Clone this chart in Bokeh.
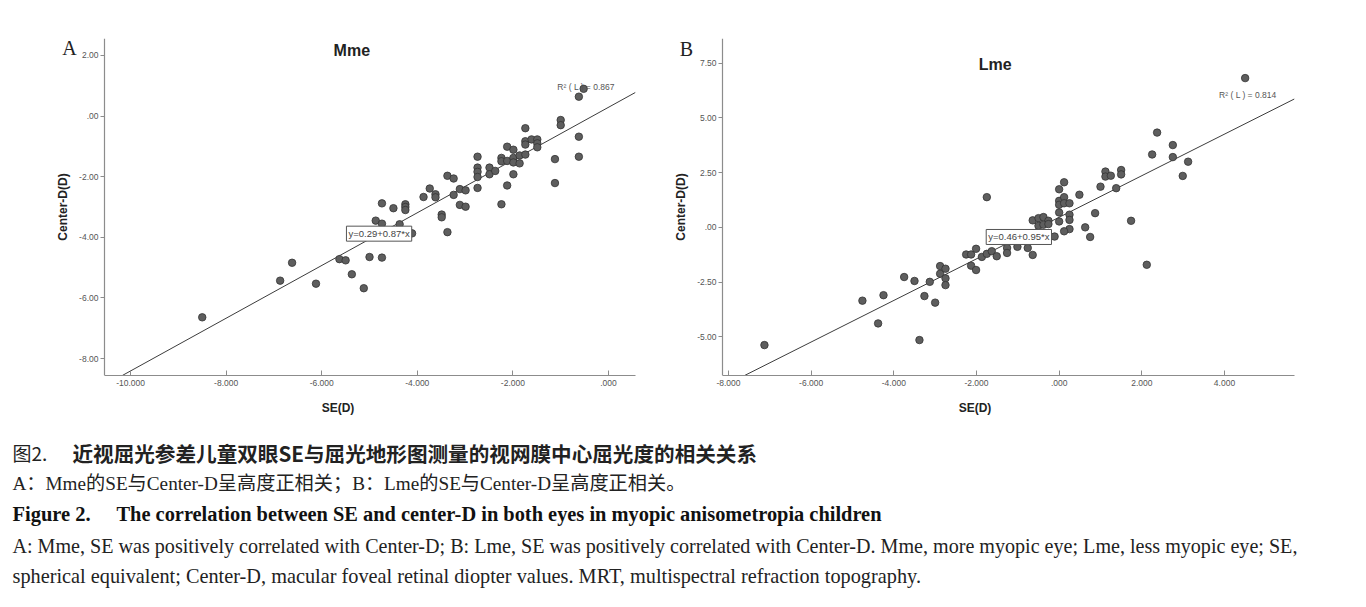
import numpy as np
from bokeh.plotting import figure
from bokeh.layouts import column, row
from bokeh.models import Range1d, FixedTicker, Label
from bokeh.core.properties import value
from bokeh.embed import file_html
from bokeh.resources import INLINE

# ---------------- data ----------------
mme_se = [-8.50, -6.87, -6.62, -6.12, -5.63, -5.50, -5.37, -5.12, -5.00, -4.74,
          -4.87, -4.74, -4.74, -4.50, -4.37, -4.25, -4.25, -4.25, -4.11, -3.87,
          -3.74, -3.62, -3.62, -3.49, -3.49, -3.37, -3.37, -3.24, -3.24, -3.11,
          -3.11, -2.99, -2.99, -2.74, -2.74, -2.74, -2.74, -2.74, -2.49, -2.49,
          -2.37, -2.24, -2.24, -2.24, -2.12, -2.12, -2.12, -1.99, -1.99, -1.99,
          -1.99, -1.86, -1.86, -1.74, -1.74, -1.74, -1.74, -1.61, -1.49, -1.49,
          -1.49, -1.12, -1.12, -1.00, -1.00, -0.62, -0.62, -0.62, -0.52]
mme_center = [-6.64, -5.43, -4.84, -5.53, -4.72, -4.76, -5.22, -5.68, -4.65, -4.67,
              -3.45, -3.55, -2.88, -3.04, -3.57, -2.91, -3.00, -3.10, -3.87, -2.67,
              -2.39, -2.58, -2.68, -3.25, -3.34, -3.83, -1.97, -2.06, -2.60, -2.41,
              -2.93, -2.45, -2.99, -1.34, -1.70, -1.84, -2.01, -2.37, -1.70, -1.92,
              -1.81, -1.38, -1.49, -2.91, -1.01, -1.48, -2.29, -1.11, -1.38, -1.53,
              -1.92, -1.30, -1.56, -0.40, -0.83, -0.94, -1.27, -0.77, -0.77, -0.90,
              -1.03, -1.42, -2.21, -0.13, -0.30, -0.68, -1.34, 0.64, 0.90]

lme_se = [-7.13, -4.76, -4.38, -4.25, -3.75, -3.50, -3.38, -3.26, -3.13, -3.00,
          -2.88, -2.88, -2.75, -2.75, -2.75, -2.25, -2.13, -2.13, -2.01, -2.01,
          -1.87, -1.75, -1.63, -1.51, -1.75, -1.26, -1.26, -1.01, -0.76, -0.64,
          -0.64, -0.50, -0.38, -0.26, -0.50, -0.38, -0.26, -0.11, 0.00, 0.00,
          0.00, 0.12, 0.12, 0.25, 0.12, 0.00, 0.00, 0.25, 0.25, 0.25,
          0.12, 0.49, 0.87, 0.63, 0.75, 1.74, 2.12, 1.00, 1.38, 1.12,
          1.12, 1.25, 1.50, 1.50, 2.25, 2.37, 2.75, 2.75, 3.12, 2.99, 4.50]
lme_center = [-5.38, -3.35, -4.39, -3.10, -2.27, -2.45, -5.15, -3.14, -2.49, -3.44,
              -1.77, -2.12, -1.89, -2.33, -2.64, -1.24, -1.24, -1.75, -0.98, -1.95,
              -1.35, -1.21, -1.09, -1.32, 1.38, -0.94, -1.17, -0.89, -0.94, -1.26,
              0.32, 0.42, 0.47, 0.30, 0.07, 0.12, 0.15, -0.42, 1.74, 1.21,
              1.03, 1.38, 1.10, 1.10, 2.06, 0.68, 0.27, 0.58, 0.34, -0.08,
              -0.18, 1.49, 0.65, 0.00, -0.44, 0.30, -1.71, 1.86, 1.79, 2.55,
              2.32, 2.36, 2.62, 2.42, 3.33, 4.33, 3.76, 3.21, 3.00, 2.35, 6.82]

mme_fit = [0.29, 0.87]   # intercept, slope
lme_fit = [0.46, 0.95]
mme_r2 = 0.867
lme_r2 = 0.814

mme_xticks = [-10, -8, -6, -4, -2, 0]
mme_xtick_labels = ["-10.000", "-8.000", "-6.000", "-4.000", "-2.000", ".000"]
mme_yticks = [2, 0, -2, -4, -6, -8]
mme_ytick_labels = ["2.00", ".00", "-2.00", "-4.00", "-6.00", "-8.00"]
lme_xticks = [-8, -6, -4, -2, 0, 2, 4]
lme_xtick_labels = ["-8.000", "-6.000", "-4.000", "-2.000", ".000", "2.000", "4.000"]
lme_yticks = [7.5, 5, 2.5, 0, -2.5, -5]
lme_ytick_labels = ["7.50", "5.00", "2.50", ".00", "-2.50", "-5.00"]

caption_cn_title_num = "图2."
caption_cn_title = "近视屈光参差儿童双眼SE与屈光地形图测量的视网膜中心屈光度的相关关系"
caption_cn_note = "A：Mme的SE与Center-D呈高度正相关；B：Lme的SE与Center-D呈高度正相关。"
caption_en_title_num = "Figure 2."
caption_en_title = "The correlation between SE and center-D in both eyes in myopic anisometropia children"
caption_en_note1 = ("A: Mme, SE was positively correlated with Center-D; B: Lme, SE was positively "
                    "correlated with Center-D. Mme, more myopic eye; Lme, less myopic eye; SE,")
caption_en_note2 = ("spherical equivalent; Center-D, macular foveal retinal diopter values. "
                    "MRT, multispectral refraction topography.")

SANS = "Liberation Sans"
SERIF = "Liberation Serif"
CJK = "Noto Sans CJK SC"
AXIS_GRAY = "#8c8c8c"


def _key(t):
    return int(t) if float(t).is_integer() else float(t)


def make_panel(se, center, fit, r2, xticks, xlabels, yticks, ylabels,
               view_x, axis_x, yr, width, height, borders, letter, letter_pos,
               title, title_pos, r2_pos, eq_pos):
    bl, br, bt, bb = borders
    p = figure(width=width, height=height, x_range=Range1d(view_x, axis_x[1]),
               y_range=Range1d(*yr), output_backend="svg", toolbar_location=None,
               min_border_left=bl, min_border_right=br, min_border_top=bt, min_border_bottom=bb)
    p.grid.visible = False
    p.outline_line_color = None
    p.background_fill_color = "white"
    p.border_fill_color = "white"

    xa = p.xaxis[0]
    xa.ticker = FixedTicker(ticks=xticks)
    xa.major_label_overrides = {_key(t): l for t, l in zip(xticks, xlabels)}
    xa.bounds = (axis_x[0], axis_x[1])
    xa.major_tick_in = 5
    xa.major_tick_out = 0
    xa.major_label_standoff = 4
    xa.axis_label = "SE(D)"
    xa.axis_label_standoff = 12

    ya = p.yaxis[0]
    ya.ticker = FixedTicker(ticks=yticks)
    ya.major_label_overrides = {_key(t): l for t, l in zip(yticks, ylabels)}
    ya.fixed_location = axis_x[0]
    ya.major_tick_in = 0
    ya.major_tick_out = 4
    ya.major_label_standoff = 2
    ya.axis_label = "Center-D(D)"
    ya.axis_label_standoff = 6

    for ax in (xa, ya):
        ax.axis_line_color = AXIS_GRAY
        ax.axis_line_width = 1.2
        ax.major_tick_line_color = AXIS_GRAY
        ax.minor_tick_line_color = None
        ax.major_label_text_font = SANS
        ax.major_label_text_font_size = "8.5px"
        ax.major_label_text_color = "#555555"
        ax.axis_label_text_font = SANS
        ax.axis_label_text_font_style = "bold"
        ax.axis_label_text_font_size = "12px"
        ax.axis_label_text_color = "#222222"

    b, m = fit
    x0 = (yr[0] - b) / m
    x1 = axis_x[1]
    p.line([x0, x1], [b + m * x0, b + m * x1], line_color="#3c3c3c", line_width=1)

    p.scatter(se, center, size=7.5, fill_color="#5e5e5e", line_color="#333333", line_width=0.8)

    p.add_layout(Label(x=letter_pos[0], y=letter_pos[1], text=letter, text_font=SERIF,
                       text_font_size="20px", text_color="#222222",
                       text_align="center", text_baseline="middle"))
    p.add_layout(Label(x=title_pos[0], y=title_pos[1], text=title, text_font=SANS,
                       text_font_style="bold", text_font_size="16px", text_color="#222222",
                       text_align="center", text_baseline="middle"))
    p.add_layout(Label(x=r2_pos[0], y=r2_pos[1], text="R\u00b2  ( L )   =   %.3f" % r2,
                       text_font=SANS, text_font_size="8.5px", text_color="#555555",
                       text_align="left", text_baseline="middle"))
    p.add_layout(Label(x=eq_pos[0], y=eq_pos[1], text="y=%.2f+%.2f*x" % (b, m),
                       text_font=SANS, text_font_size="9.5px", text_color="#444444",
                       text_align="center", text_baseline="middle",
                       background_fill_color="white", border_line_color="#555555",
                       border_line_width=1, padding=2))
    return p


pA = make_panel(mme_se, mme_center, mme_fit, mme_r2,
                mme_xticks, mme_xtick_labels, mme_yticks, mme_ytick_labels,
                -11.884, (-10.545, 0.565), (-8.56, 2.56), 645, 430, (40, 10, 38, 55),
                "A", (-11.276, 2.25), "Mme", (-5.37, 2.18), (-1.07, 0.96), (-4.80, -3.88))

pB = make_panel(lme_se, lme_center, lme_fit, lme_r2,
                lme_xticks, lme_xtick_labels, lme_yticks, lme_ytick_labels,
                -9.766, (-8.145, 5.694), (-6.77, 8.63), 705, 430, (10, 56, 35, 55),
                "B", (-9.016, 8.13), "Lme", (-1.55, 7.45), (3.87, 6.05), (-0.975, -0.44))

pC = figure(width=1350, height=170, x_range=Range1d(0, 1350), y_range=Range1d(170, 0),
            x_axis_type=None, y_axis_type=None, output_backend="svg", toolbar_location=None,
            min_border=0)
pC.grid.visible = False
pC.outline_line_color = None

pC.text(x=[12], y=[22], text=[caption_cn_title_num], text_font=value(CJK),
        text_font_size="19px", text_color="#222222", text_baseline="middle")
pC.text(x=[72], y=[22], text=[caption_cn_title], text_font=value(CJK),
        text_font_style="bold", text_font_size="20.6px", text_color="#222222", text_baseline="middle")
pC.text(x=[12], y=[53], text=[caption_cn_note], text_font=value(SERIF + ", " + CJK),
        text_font_size="19.2px", text_color="#222222", text_baseline="middle")
pC.text(x=[12], y=[83], text=[caption_en_title_num], text_font=value(SERIF),
        text_font_style="bold", text_font_size="20.5px", text_color="#111111", text_baseline="middle")
pC.text(x=[116], y=[83], text=[caption_en_title], text_font=value(SERIF),
        text_font_style="bold", text_font_size="20.4px", text_color="#111111", text_baseline="middle")
pC.text(x=[12], y=[115], text=[caption_en_note1], text_font=value(SERIF),
        text_font_size="20.1px", text_color="#222222", text_baseline="middle")
pC.text(x=[12], y=[145], text=[caption_en_note2], text_font=value(SERIF),
        text_font_size="20.3px", text_color="#222222", text_baseline="middle")

layout = column(row(pA, pB), pC)
open("out.html", "w").write(file_html(layout, INLINE))
